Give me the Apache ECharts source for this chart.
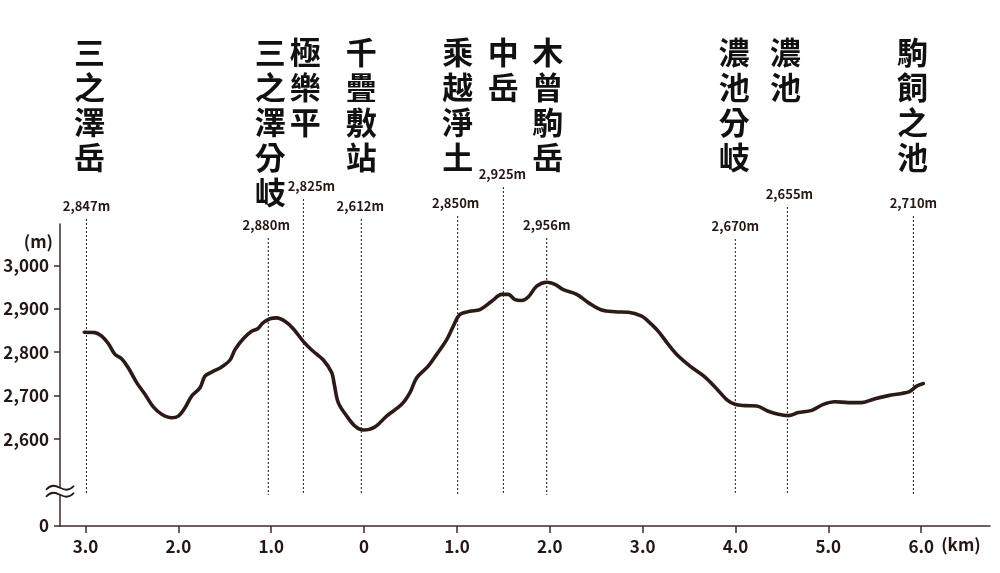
<!DOCTYPE html>
<html>
<head>
<meta charset="utf-8">
<script src="https://cdn.jsdelivr.net/npm/echarts@6/dist/echarts.min.js"></script>
<style>
html,body{margin:0;padding:0;background:#fff;}
#c{width:1000px;height:573px;}
</style>
</head>
<body>
<div id="c"></div>
<script>
// ---- data (km from 千疊敷站: negative = toward 三之澤岳) ----
const distanceKm = [-3.013,-2.898,-2.826,-2.755,-2.683,-2.611,-2.540,-2.449,-2.360,-2.270,-2.180,-2.072,-2.001,-1.929,-1.857,-1.767,-1.714,-1.641,-1.534,-1.444,-1.390,-1.301,-1.211,-1.146,-1.086,-1.013,-0.941,-0.852,-0.763,-0.655,-0.564,-0.439,-0.349,-0.321,-0.278,-0.187,-0.098,-0.009,0.117,0.243,0.405,0.494,0.567,0.691,0.782,0.890,0.961,1.033,1.141,1.248,1.374,1.482,1.553,1.625,1.697,1.768,1.859,1.967,2.056,2.145,2.290,2.415,2.559,2.702,2.845,2.990,3.061,3.169,3.276,3.384,3.510,3.653,3.779,3.905,3.995,4.102,4.228,4.353,4.461,4.569,4.676,4.821,4.946,5.072,5.215,5.359,5.502,5.646,5.790,5.879,5.951,6.023];
const elevation = [2846,2845,2837,2820,2795,2785,2764,2730,2703,2674,2657,2649,2653,2672,2699,2718,2745,2754,2766,2782,2806,2831,2848,2854,2868,2877,2879,2871,2854,2825,2805,2782,2753,2726,2684,2653,2630,2621,2628,2653,2680,2707,2741,2768,2795,2829,2860,2887,2894,2898,2917,2933,2933,2921,2919,2927,2952,2961,2956,2944,2933,2914,2897,2893,2892,2883,2871,2848,2818,2791,2768,2746,2720,2691,2680,2677,2676,2664,2657,2654,2661,2666,2680,2686,2684,2684,2693,2700,2705,2710,2722,2728];

const pointNames = ['三之澤岳','三之澤分岐','極樂平','千疊敷站','乘越淨土','中岳','木曾駒岳','濃池分岐','濃池','駒飼之池'];
const pointKm    = [-2.99,-1.032,-0.654,-0.030,1.008,1.500,1.967,3.998,4.559,5.916];
const pointElev  = [2847,2880,2825,2612,2850,2925,2956,2670,2655,2710];

const xTickValues = [-3,-2,-1,0,1,2,3,4,5,6];
const xTickLabels = ['3.0','2.0','1.0','0','1.0','2.0','3.0','4.0','5.0','6.0'];
const yTickValues = [0,2600,2700,2800,2900,3000];
const yTickLabels = ['0','2,600','2,700','2,800','2,900','3,000'];
const yBreak = {start: 80, end: 2480};
const xUnit = '(km)';
const yUnit = '(m)';

// ---- annotation layout (pixels) ----
const labelCenterY = [206,225,186,206,203,174,225,226,194,203];
const labelDx      = [0,-2,8,-1,-2,-1,0,0,2,0];
const nameDx       = [3,2,2,0,0,0,1,-1,-2,-1];

const INK = '#231815';
const AXIS = '#3a2c2a';
const FONT = '"Noto Sans CJK TC","Noto Sans CJK JP","Noto Sans",sans-serif';

const fmtElev = v => v.toLocaleString('en-US') + 'm';

const chart = echarts.init(document.getElementById('c'), null, {renderer: 'canvas'});

const option = {
  animation: false,
  backgroundColor: '#fff',
  grid: {left: 60, right: 10, top: 224, bottom: 47},
  xAxis: {
    type: 'value',
    min: -3.275,
    max: 6.741,
    axisLine: {show: true, onZero: false, lineStyle: {color: AXIS, width: 1.5}},
    axisTick: {show: true, length: 7, customValues: xTickValues, lineStyle: {color: AXIS, width: 1.5}},
    axisLabel: {
      customValues: xTickValues,
      formatter: v => { const i = xTickValues.indexOf(v); return i >= 0 ? xTickLabels[i] : ''; },
      margin: 12, color: INK, fontSize: 17, fontWeight: 'bold', fontFamily: FONT
    },
    splitLine: {show: false}
  },
  yAxis: {
    type: 'value',
    min: 0,
    max: 3095,
    breaks: [{start: yBreak.start, end: yBreak.end, gap: 0}],
    breakArea: {show: false},
    name: yUnit,
    nameLocation: 'end',
    nameGap: -18,
    nameMoveOverlap: false,
    nameTextStyle: {color: INK, fontSize: 17, fontWeight: 'bold', fontFamily: FONT, align: 'right', verticalAlign: 'middle', padding: [0, 7, 0, 0]},
    axisLine: {show: true, onZero: false, lineStyle: {color: AXIS, width: 1.5}},
    axisTick: {show: true, length: 6, customValues: yTickValues, lineStyle: {color: AXIS, width: 1.5}},
    axisLabel: {
      customValues: yTickValues,
      formatter: v => { const i = yTickValues.indexOf(v); return i >= 0 ? yTickLabels[i] : ''; },
      margin: 11, color: INK, fontSize: 17, fontWeight: 'bold', fontFamily: FONT
    },
    splitLine: {show: false}
  },
  series: [
    {
      type: 'custom',
      clip: false,
      silent: true,
      z: 2,
      data: pointKm.map((x, i) => [x, pointElev[i], i]),
      encode: {x: 0, y: 1},
      renderItem: (params, api) => {
        const i = api.value(2);
        const px = api.coord([api.value(0), 3000])[0];
        const cs = params.coordSys;
        const bottom = cs.y + cs.height - 31;
        const ly = labelCenterY[i];
        return {
          type: 'group',
          children: [
            {type: 'line', shape: {x1: px, y1: ly + 13, x2: px, y2: bottom},
             style: {stroke: INK, lineWidth: 1, lineDash: [2, 2]}},
            {type: 'text', style: {text: fmtElev(pointElev[i]), x: px + labelDx[i], y: ly,
             align: 'center', verticalAlign: 'middle', fill: INK,
             fontSize: 13, fontWeight: 'bold', fontFamily: FONT}},
            {type: 'text', style: {text: pointNames[i].split('').join('\n'), x: px + nameDx[i], y: 35,
             align: 'center', verticalAlign: 'top', fill: '#111',
             fontSize: 31, fontWeight: 'bold', fontFamily: FONT, lineHeight: 35}}
          ]
        };
      }
    },
    {
      type: 'line',
      z: 3,
      data: distanceKm.map((x, i) => [x, elevation[i]]),
      symbol: 'none',
      showSymbol: false,
      smooth: 0.35,
      lineStyle: {color: '#2a1b18', width: 3.6, cap: 'round', join: 'round'}
    }
  ]
};

chart.setOption(option);

// axis-break mark (≈) on the y axis, and x unit label
const bx = chart.convertToPixel({xAxisIndex: 0}, -3.275);
const by = chart.convertToPixel({yAxisIndex: 0}, yBreak.start);
const ax = chart.convertToPixel({xAxisIndex: 0}, xTickValues[xTickValues.length - 1]);
const ay = chart.convertToPixel({yAxisIndex: 0}, 0);
function wave(dy) {
  return {type: 'bezierCurve', x: bx, y: by + dy, z: 101,
    shape: {x1: -14, y1: 2, x2: 14, y2: -2, cpx1: -3, cpy1: -10, cpx2: 3, cpy2: 10},
    style: {stroke: INK, lineWidth: 1.8, fill: null}};
}
chart.setOption({
  graphic: [
    {type: 'rect', x: bx - 4, y: by - 3, z: 100, shape: {width: 8, height: 6}, style: {fill: '#fff'}},
    wave(-3.5),
    wave(3.5),
    {type: 'text', x: ax + 20, y: ay + 19, z: 101,
     style: {text: xUnit, fill: INK, fontSize: 17, fontWeight: 'bold', fontFamily: FONT, align: 'left', verticalAlign: 'middle'}}
  ]
});
</script>
</body>
</html>
